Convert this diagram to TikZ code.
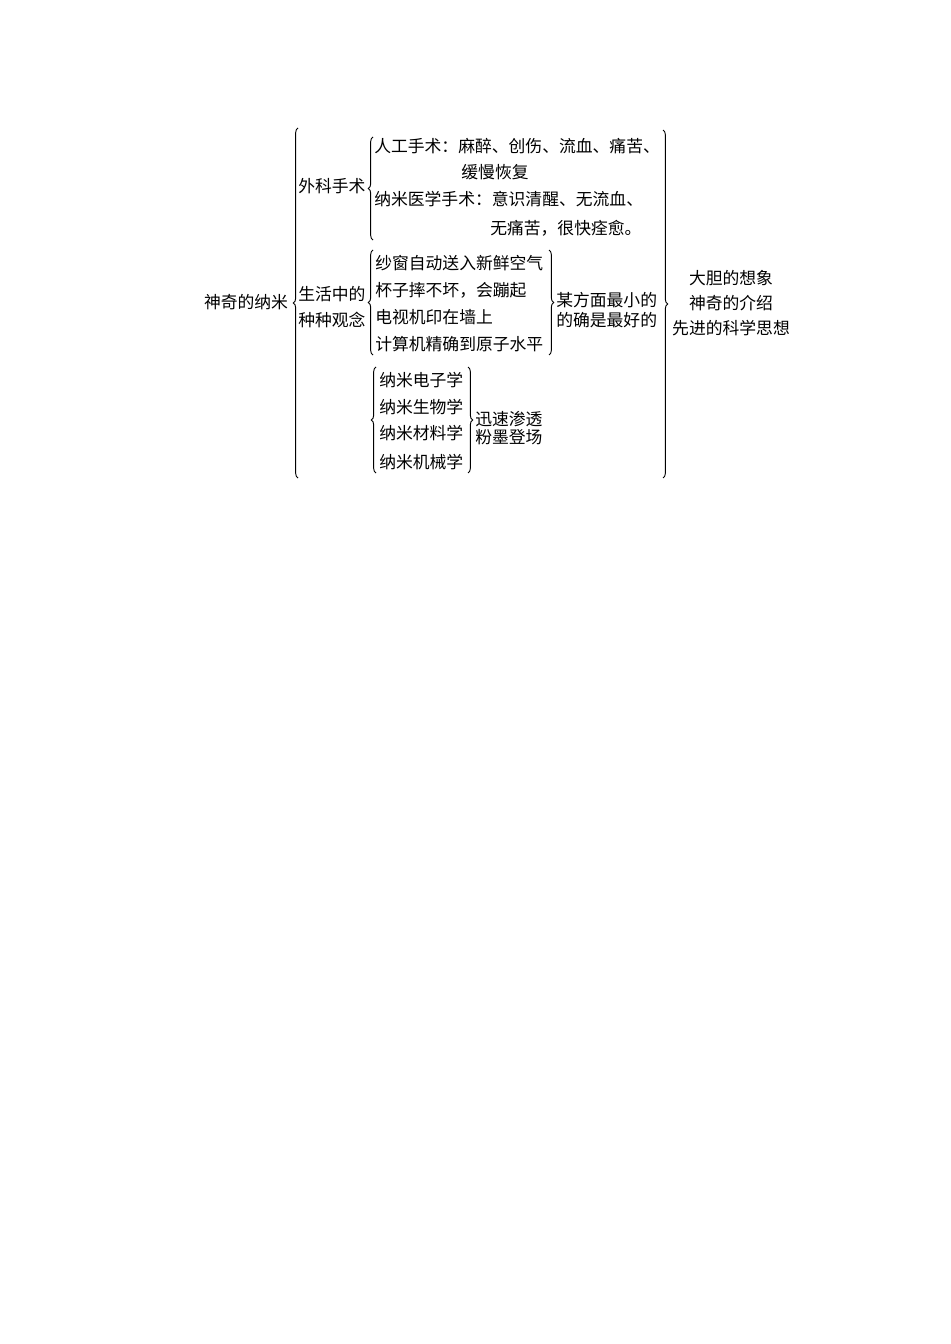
\documentclass[tikz,border=0pt]{standalone}
\usepackage{fontspec}
\setmainfont{Noto Sans CJK SC}
\usetikzlibrary{decorations.pathreplacing}
\tikzset{
  txt/.style={inner sep=0pt, font=\fontsize{12.6}{19.5}\selectfont},
  txtw/.style={txt, anchor=west},
  brc/.style={draw=black, line width=0.7pt, decorate, decoration={brace, amplitude=3.5pt}},
}
\begin{document}
\begin{tikzpicture}[x=0.75pt, y=-0.75pt]
\useasboundingbox (0,0) rectangle (950,1344);
% root
\node[txt] (root) at (246,302) {神奇的纳米};
\coordinate (bigT) at (298,128);
\coordinate (bigB) at (298,478);
\draw[brc] (bigB) -- (bigT);
% surgery group
\node[txtw] (surg) at (298,186) {外科手术};
\coordinate (sT) at (373,137);
\coordinate (sB) at (373,240);
\draw[brc] (sB) -- (sT);
\node[txtw] (s1) at (374,146) {人工手术：麻醉、创伤、流血、痛苦、};
\node[txt] (s2) at (495,172) {缓慢恢复};
\node[txtw] (s3) at (374,199) {纳米医学手术：意识清醒、无流血、};
\node[txtw] (s4) at (490,228) {无痛苦，很快痊愈。};
% life group
\node[txtw, align=left] (life) at (298,307) {生活中的\\种种观念};
\coordinate (lT) at (373,250);
\coordinate (lB) at (373,355);
\draw[brc] (lB) -- (lT);
\node[txtw] (l1) at (375,263) {纱窗自动送入新鲜空气};
\node[txtw] (l2) at (375,290) {杯子摔不坏，会蹦起};
\node[txtw] (l3) at (375,317) {电视机印在墙上};
\node[txtw] (l4) at (375,344) {计算机精确到原子水平};
\coordinate (lrT) at (549,250);
\coordinate (lrB) at (549,355);
\draw[brc] (lrT) -- (lrB);
\node[txtw, align=left, font=\fontsize{12.6}{15}\selectfont] (lres) at (556,310) {某方面最小的\\的确是最好的};
% science group
\coordinate (nT) at (376,367);
\coordinate (nB) at (376,473);
\draw[brc] (nB) -- (nT);
\node[txtw] (n1) at (379,380) {纳米电子学};
\node[txtw] (n2) at (379,407) {纳米生物学};
\node[txtw] (n3) at (379,433) {纳米材料学};
\node[txtw] (n4) at (379,462) {纳米机械学};
\coordinate (nrT) at (468,367);
\coordinate (nrB) at (468,473);
\draw[brc] (nrT) -- (nrB);
\node[txtw, align=left, font=\fontsize{12.6}{13}\selectfont] (nres) at (475,428) {迅速渗透\\粉墨登场};
% right big brace
\coordinate (rT) at (663,130);
\coordinate (rB) at (663,478);
\draw[brc] (rT) -- (rB);
\node[txt] (r1) at (731,278) {大胆的想象};
\node[txt] (r2) at (731,303) {神奇的介绍};
\node[txt] (r3) at (731,328) {先进的科学思想};
\end{tikzpicture}
\end{document}
